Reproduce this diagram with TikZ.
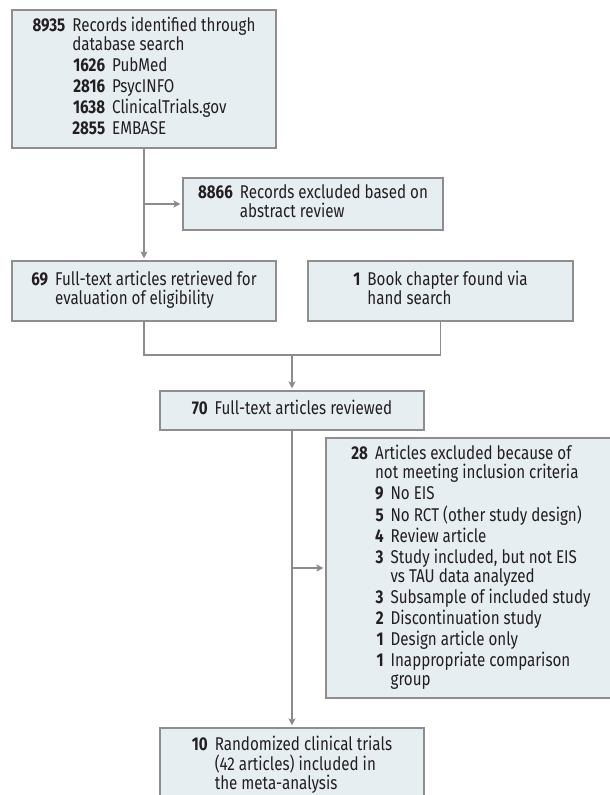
\documentclass[tikz,border=0pt]{standalone}
\usepackage{fontspec}
\setmainfont[FakeStretch=0.82]{Fira Sans}
\usetikzlibrary{arrows.meta}
\definecolor{boxfill}{HTML}{E7EEF2}
\definecolor{boxline}{HTML}{8E8E8E}
\definecolor{connc}{HTML}{8C8C8C}
\definecolor{txt}{HTML}{231F20}
\newcommand{\fsz}{\fontsize{18.5}{21}\selectfont}
\newcommand{\mc}[1]{\multicolumn{2}{@{}l@{}}{#1}}
\newcommand{\wrapnl}{\\[-2pt]}
\newenvironment{items}{\begin{tabular}{@{}r@{\hspace{7pt}}r@{\hspace{7pt}}l@{}}}{\end{tabular}}
\begin{document}
\begin{tikzpicture}[x=1pt,y=-1pt,
  fbox/.style={draw=boxline, fill=boxfill, line width=1.1pt, inner sep=0pt, text=txt, font=\fsz, align=left},
  conn/.style={draw=connc, line width=1.2pt},
  arr/.style={conn, shorten >=2pt, -{Stealth[length=7pt,width=7pt,inset=1.5pt]}}]
\fill[white] (0,0) rectangle (610,795);
\useasboundingbox (0,0) rectangle (610,795);

\node[fbox, minimum width=264pt, minimum height=138pt] (top) at (144,79) {\begin{items}
\textbf{8935} & \mc{Records identified through}\wrapnl
 & \mc{database search}\\
 & \textbf{1626} & PubMed\\
 & \textbf{2816} & PsycINFO\\
 & \textbf{1638} & ClinicalTrials.gov\\
 & \textbf{2855} & EMBASE
\end{items}};

\node[fbox, minimum width=260pt, minimum height=52pt] (ex1) at (313,204) {\begin{items}
\textbf{8866} & \mc{Records excluded based on}\wrapnl
 & \mc{abstract review}
\end{items}};

\node[fbox, minimum width=264pt, minimum height=60pt] (b69) at (144,291) {\begin{items}
\textbf{69} & \mc{Full-text articles retrieved for}\wrapnl
 & \mc{evaluation of eligibility}
\end{items}};

\node[fbox, minimum width=265pt, minimum height=60pt] (b1) at (440.5,291) {\begin{items}
\textbf{1} & \mc{Book chapter found via}\wrapnl
 & \mc{hand search}
\end{items}};

\node[fbox, minimum width=264pt, minimum height=39pt] (b70) at (292,410.5) {\begin{items}
\textbf{70} & \mc{Full-text articles reviewed}
\end{items}};

\node[fbox, minimum width=290pt, minimum height=260pt] (ex2) at (471,568) {\begin{items}
\textbf{28} & \mc{Articles excluded because of}\wrapnl
 & \mc{not meeting inclusion criteria}\\
 & \textbf{9} & No EIS\\
 & \textbf{5} & No RCT (other study design)\\
 & \textbf{4} & Review article\\
 & \textbf{3} & Study included, but not EIS\wrapnl
 & & vs TAU data analyzed\\
 & \textbf{3} & Subsample of included study\\
 & \textbf{2} & Discontinuation study\\
 & \textbf{1} & Design article only\\
 & \textbf{1} & Inappropriate comparison\wrapnl
 & & group
\end{items}};

\node[fbox, minimum width=264pt, minimum height=75pt] (final) at (292,765.5) {\begin{items}
\textbf{10} & \mc{Randomized clinical trials}\wrapnl
 & \mc{(42 articles) included in}\wrapnl
 & \mc{the meta-analysis}
\end{items}};

\coordinate (j1) at (144,204);
\coordinate (m) at (292,355);
\coordinate (j2) at (292,568);
\draw[arr] (top.south) -- (b69.north);
\draw[arr] (j1) -- (ex1.west);
\draw[conn] (b69.south) |- (m) -| (b1.south);
\draw[arr] (m) -- (b70.north);
\draw[arr] (b70.south) -- (final.north);
\draw[arr] (j2) -- (ex2.west);
\end{tikzpicture}
\end{document}
